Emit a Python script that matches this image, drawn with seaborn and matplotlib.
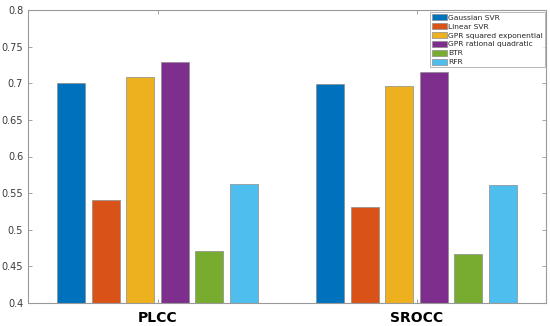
import numpy as np
import pandas as pd
import matplotlib
matplotlib.use('Agg')
import matplotlib.pyplot as plt
import seaborn as sns

# Data
metrics = ['PLCC', 'SROCC']
models = ['Gaussian SVR', 'Linear SVR', 'GPR squared exponential',
          'GPR rational quadratic', 'BTR', 'RFR']
plcc = [0.701, 0.541, 0.708, 0.729, 0.471, 0.563]
srocc = [0.699, 0.531, 0.696, 0.716, 0.467, 0.561]
y_ticks = [0.4, 0.45, 0.5, 0.55, 0.6, 0.65, 0.7, 0.75, 0.8]
y_labels = ['0.4', '0.45', '0.5', '0.55', '0.6', '0.65', '0.7', '0.75', '0.8']

colors = ['#0072BD', '#D95319', '#EDB120', '#7E2F8E', '#77AC30', '#4DBEEE']

df = pd.DataFrame({
    'metric': ['PLCC'] * len(models) + ['SROCC'] * len(models),
    'model': models * 2,
    'value': plcc + srocc,
})

sns.set_style('white')
plt.rcParams['font.family'] = ['DejaVu Sans']

fig = plt.figure(figsize=(5.5, 3.26), dpi=100)
ax = fig.add_axes([28 / 550, 1 - 303 / 326, 518 / 550, 293 / 326])

sns.barplot(data=df, x='metric', y='value', hue='model', order=metrics,
            hue_order=models, palette=colors, saturation=1, width=0.8,
            gap=0.2, edgecolor='0.55', linewidth=0.5, ax=ax)

ax.set_xlim(-0.5, 1.5)
ax.set_ylim(0.4, 0.8)
ax.set_yticks(y_ticks)
ax.set_yticklabels(y_labels)
ax.set_xlabel('')
ax.set_ylabel('')

for lbl in ax.get_xticklabels():
    lbl.set_fontweight('bold')
    lbl.set_fontsize(10)
    lbl.set_color('black')

ax.tick_params(axis='y', labelsize=7, labelcolor='#3a3a3a')
ax.tick_params(direction='in', length=3, width=0.5, color='0.5',
               top=True, right=True, bottom=True, left=True)
ax.tick_params(axis='x', pad=6)

for s in ax.spines.values():
    s.set_color('0.6')
    s.set_linewidth(0.8)

handles, labels = ax.get_legend_handles_labels()
leg = ax.legend(handles, labels, loc='upper right', fontsize=5.4,
                bbox_to_anchor=(0.998, 0.993), borderaxespad=0.0,
                frameon=True, fancybox=False, edgecolor='0.6',
                handlelength=2.0, handleheight=0.9, handletextpad=0.2,
                labelspacing=0.3, borderpad=0.25)
leg.get_frame().set_linewidth(0.6)

fig.savefig('out.png', dpi=100)
